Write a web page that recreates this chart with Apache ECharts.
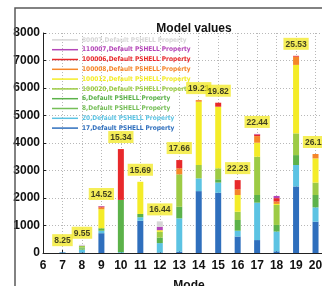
<!DOCTYPE html>
<html>
<head>
<meta charset="utf-8">
<script src="https://cdn.jsdelivr.net/npm/echarts@6/dist/echarts.min.js"></script>
<style>
  html, body { margin: 0; padding: 0; background: #fff; }
  #chart { width: 322px; height: 286px; }
</style>
</head>
<body>
<div id="chart"></div>
<script>
// x axis tick labels
var axisModes = ['6', '7', '8', '9', '10', '11', '12', '13', '14', '15', '16', '17', '18', '19', '20', '21'];
// modes that carry a bar
var modes = ['7', '8', '9', '10', '11', '12', '13', '14', '15', '16', '17', '18', '19', '20'];
// yellow boxes above the bars ('' = none)
var topLabels = ['8.25', '9.55', '14.52', '15.34', '15.69', '16.44', '17.66', '19.21', '19.82', '22.23', '22.44', '', '25.53', '26.12'];

// stacked parts, bottom first
var p17     = [20, 20, 720, 0, 1175, 20, 50, 2250, 2190, 600, 470, 60, 2420, 1140];
var p20     = [10, 100, 90, 30, 125, 340, 1210, 465, 370, 210, 1360, 720, 780, 520];
var p8      = [0, 40, 0, 0, 0, 0, 0, 0, 0, 0, 0, 0, 0, 0];
var p6      = [0, 40, 90, 1900, 120, 200, 420, 0, 120, 390, 280, 240, 360, 450];
var p100020 = [0, 60, 0, 0, 0, 210, 1180, 485, 400, 300, 1390, 725, 790, 450];
var p100012 = [0, 0, 690, 0, 1170, 60, 0, 2300, 2240, 610, 510, 40, 2490, 880];
var p100008 = [0, 0, 70, 0, 0, 0, 220, 60, 0, 205, 240, 90, 300, 160];
var p100006 = [0, 0, 30, 1850, 0, 0, 300, 0, 145, 335, 60, 120, 30, 0];
var p110007 = [0, 10, 20, 0, 0, 120, 0, 0, 0, 0, 20, 80, 0, 0];
var p80007  = [0, 30, 0, 0, 0, 200, 0, 0, 0, 0, 0, 0, 0, 0];

var parts = [
  { name: '17,Default PSHELL Property', data: p17, color: '#2f6fbd' },
  { name: '20,Default PSHELL Property', data: p20, color: '#5cc3e3' },
  { name: '8,Default PSHELL Property', data: p8, color: '#76bf58' },
  { name: '6,Default PSHELL Property', data: p6, color: '#5cb24a' },
  { name: '100020,Default PSHELL Property', data: p100020, color: '#9dcb45' },
  { name: '100012,Default PSHELL Property', data: p100012, color: '#f4ec28' },
  { name: '100008,Default PSHELL Property', data: p100008, color: '#f5862a' },
  { name: '100006,Default PSHELL Property', data: p100006, color: '#e8292b' },
  { name: '110007,Default PSHELL Property', data: p110007, color: '#b446b8' },
  { name: '80007,Default PSHELL Property', data: p80007, color: '#d6d6d6' }
];

var chart = echarts.init(document.getElementById('chart'));

// spread a per-mode array over the full category axis
function onAxis(arr) {
  return axisModes.map(function (c) {
    var i = modes.indexOf(c);
    return i < 0 ? null : arr[i];
  });
}

var series = parts.map(function (p) {
  return {
    name: p.name,
    type: 'bar',
    stack: 'all',
    barWidth: 6,
    itemStyle: { color: p.color },
    data: onAxis(p.data)
  };
});

// totals for placing the yellow labels
var totals = modes.map(function (m, i) {
  var s = 0;
  parts.forEach(function (p) { s += p.data[i]; });
  return s;
});

series.push({
  type: 'scatter',
  symbolSize: 0,
  silent: true,
  z: 10,
  data: modes.map(function (m, i) {
    return { value: [m, totals[i]], label: { show: topLabels[i] !== '' } };
  }),
  label: {
    position: 'top',
    distance: 6,
    formatter: function (p) { return topLabels[p.dataIndex]; },
    backgroundColor: '#f2ea2e',
    color: '#111',
    fontFamily: 'Liberation Sans',
    fontWeight: 'bold',
    fontSize: 8.5,
    padding: [2, 2, 1, 2]
  }
});

var legendData = parts.slice().reverse().map(function (p) {
  return { name: p.name, textStyle: { color: p.color } };
});

chart.setOption({
  animation: false,
  backgroundColor: '#fff',
  title: {
    text: 'Model values',
    left: 189,
    textAlign: 'center',
    top: 18,
    textStyle: { fontFamily: 'Liberation Sans', fontWeight: 'bold', fontSize: 12, color: '#111' }
  },
  legend: {
    orient: 'vertical',
    left: 47,
    top: 30,
    itemGap: 0,
    itemWidth: 26,
    itemHeight: 1.5,
    icon: 'rect',
    data: legendData,
    textStyle: {
      fontFamily: 'DejaVu Sans Condensed',
      fontWeight: 'bold',
      fontSize: 6.5,
      lineHeight: 9.8,
      padding: [0, 0, 0, -1]
    }
  },
  grid: { left: 43, top: 33, width: 292, height: 220, outerBoundsMode: 'none' },
  xAxis: {
    type: 'category',
    data: axisModes,
    boundaryGap: false,
    name: 'Mode',
    nameLocation: 'middle',
    nameGap: 27,
    nameTextStyle: { fontFamily: 'Liberation Sans', fontWeight: 'bold', fontSize: 12, color: '#111' },
    axisLine: { lineStyle: { color: '#222', width: 1 } },
    axisTick: { inside: true, length: 3, lineStyle: { color: '#222' } },
    axisLabel: { margin: 7, interval: 0, fontFamily: 'Liberation Sans', fontWeight: 'bold', fontSize: 12, color: '#111' },
    splitLine: { show: true, interval: 0, lineStyle: { color: '#b8b8b8', type: [1, 2] } }
  },
  yAxis: {
    type: 'value',
    min: 0,
    max: 8000,
    interval: 1000,
    axisLine: { show: true, lineStyle: { color: '#222', width: 1 } },
    axisTick: { show: true, inside: true, length: 3, lineStyle: { color: '#222' } },
    axisLabel: {
      margin: 3,
      formatter: function (v) { return String(v); },
      fontFamily: 'Liberation Sans', fontWeight: 'bold', fontSize: 12, color: '#111'
    },
    splitLine: { show: true, lineStyle: { color: '#b8b8b8', type: [1, 2] } }
  },
  graphic: [{
    type: 'rect',
    silent: true,
    z: 100,
    shape: { x: 15, y: 8, width: 400, height: 400 },
    style: { fill: null, stroke: '#5a5a5a', lineWidth: 1.5 }
  }],
  series: series
});
</script>
</body>
</html>
